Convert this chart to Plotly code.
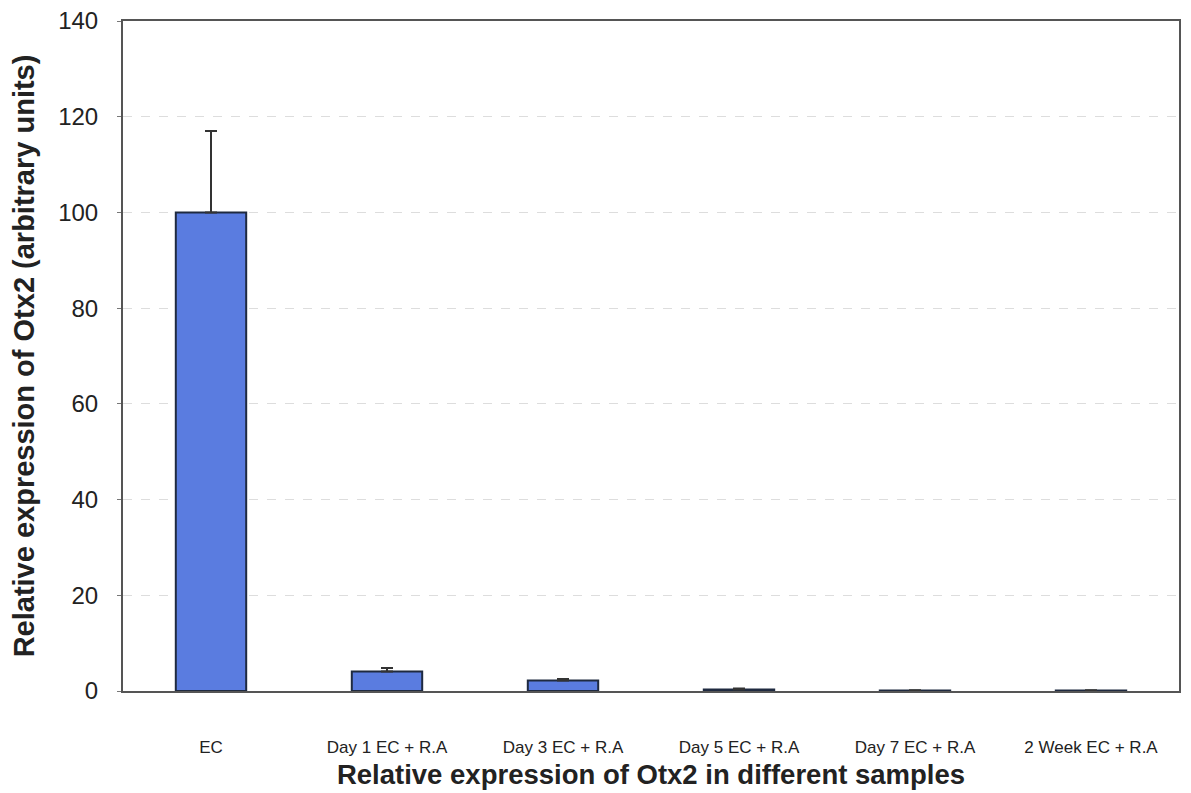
import plotly.graph_objects as go

categories = ["EC", "Day 1 EC + R.A", "Day 3 EC + R.A", "Day 5 EC + R.A", "Day 7 EC + R.A", "2 Week EC + R.A"]
values = [100, 4.1, 2.2, 0.3, 0.1, 0.1]
errors = [17, 0.7, 0.3, 0.2, 0.05, 0.05]
yticks = [0, 20, 40, 60, 80, 100, 120, 140]

fig = go.Figure()
fig.add_trace(go.Bar(
    x=categories, y=values,
    marker=dict(color="#5a7ce0", line=dict(color="#1f2a40", width=2)),
    width=0.4,
    error_y=dict(type="data", array=errors, arrayminus=[0]*len(errors), visible=True,
                 color="#333333", thickness=2, width=6),
))

fig.update_layout(
    width=1183, height=785,
    margin=dict(l=115, r=12, t=13, b=102, autoexpand=False),
    paper_bgcolor="white", plot_bgcolor="white",
    font=dict(family="Liberation Sans, Arial, sans-serif", color="#222222"),
    showlegend=False,
    bargap=0.6,
)
fig.update_xaxes(
    showline=True, linecolor="#555555", linewidth=2, mirror=True,
    tickfont=dict(size=17), ticks="", ticklabelstandoff=40,
    title=dict(text="<b>Relative expression of Otx2 in different samples</b>", font=dict(size=27.5), standoff=8),
)
fig.update_yaxes(
    range=[0, 140], tickvals=yticks,
    showline=True, linecolor="#555555", linewidth=2, mirror=True,
    showgrid=True, gridcolor="#dddddd", griddash="dash", gridwidth=1,
    ticks="outside", ticklen=4, tickcolor="#777777", ticklabelstandoff=14,
    ticklabeloverflow="allow",
    tickfont=dict(size=24), zeroline=False,
    title=dict(text="<b>Relative expression of Otx2 (arbitrary units)</b>", font=dict(size=29), standoff=16),
)

fig.write_html("out.html")
